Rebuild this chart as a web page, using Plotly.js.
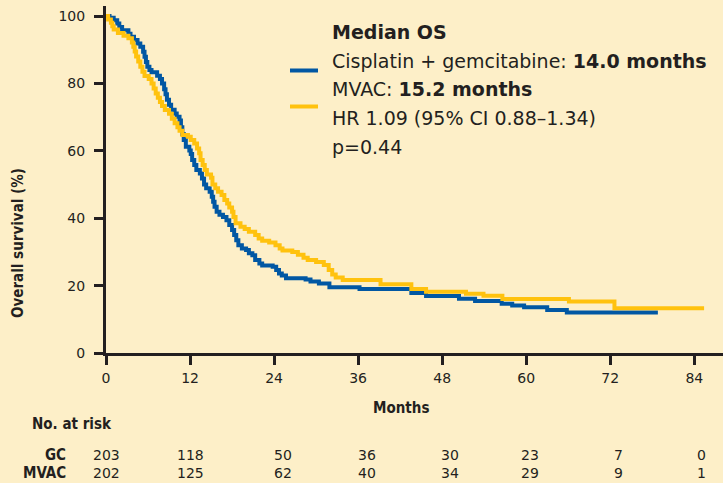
<!DOCTYPE html>
<html>
<head>
<meta charset="utf-8">
<script src="https://cdn.plot.ly/plotly-3.0.1.min.js"></script>
<style>
  html, body { margin: 0; padding: 0; background: #fdefc8; }
  #chart { width: 723px; height: 483px; }
</style>
</head>
<body>
<div id="chart"></div>
<script>
// Kaplan-Meier overall survival, cisplatin + gemcitabine (GC) vs MVAC
const gcTime = [0, 0.5, 1.1, 1.6, 1.9, 2.3, 3.2, 3.5, 4.0, 4.5, 4.9, 5.3, 5.5, 5.7, 5.9, 6.2, 6.5, 7.3, 7.7, 8.0,
  8.3, 8.5, 8.7, 9.0, 9.3, 9.8, 10.1, 10.5, 10.7, 10.9, 11.1, 11.4, 11.9, 12.1, 12.3, 12.6, 12.9, 13.4, 13.7, 14.0,
  14.3, 14.8, 15.1, 15.3, 15.5, 15.8, 16.2, 16.7, 17.2, 17.6, 18.0, 18.3, 18.6, 18.9, 19.4, 20.0, 20.4, 20.9, 21.3, 21.9,
  22.3, 23.8, 24.3, 24.7, 25.1, 25.7, 28.5, 29.2, 30.4, 31.9, 36.2, 43.6, 45.7, 50.4, 52.7, 56.5, 58.0, 59.7, 63.0, 65.8, 78.8];
const gcSurv = [100, 99.5, 98.8, 97.8, 96.8, 95.8, 94.8, 93.9, 92.9, 91.9, 90.9, 89.4, 87.9, 86.4, 85.0, 84.0, 83.3, 82.3, 81.3, 80.0,
  78.3, 76.8, 75.2, 73.7, 72.2, 71.1, 70.1, 69.0, 67.0, 65.0, 63.2, 61.2, 60.1, 59.1, 57.3, 55.8, 54.3, 53.3, 51.8, 50.0,
  48.9, 47.9, 46.4, 44.9, 43.4, 41.9, 41.0, 40.4, 39.4, 38.0, 36.5, 35.0, 33.5, 32.0, 31.0, 30.6, 29.6, 29.0, 27.6, 26.6,
  26.0, 25.6, 24.6, 23.6, 23.0, 22.2, 21.8, 21.2, 20.6, 19.5, 19.0, 17.8, 16.9, 16.1, 15.4, 14.6, 14.1, 13.6, 12.8, 12.0, 12.0];

const mvacTime = [0, 0.3, 0.7, 0.9, 1.1, 1.7, 2.5, 3.2, 3.7, 3.9, 4.1, 4.3, 4.6, 4.9, 5.2, 5.5, 6.1, 6.5, 6.8, 7.1,
  7.4, 7.7, 8.0, 8.4, 9.0, 9.4, 9.8, 10.2, 10.5, 10.9, 11.7, 12.1, 12.6, 13.0, 13.3, 13.5, 13.8, 14.1, 14.4, 15.0,
  15.2, 15.6, 16.0, 16.5, 16.9, 17.3, 17.6, 18.0, 18.2, 18.5, 19.2, 19.8, 20.4, 21.3, 21.8, 22.3, 23.3, 24.2, 24.8, 25.2,
  26.6, 27.4, 28.2, 28.8, 30.0, 31.1, 31.8, 32.3, 32.8, 33.8, 39.2, 43.6, 45.7, 51.4, 53.9, 56.6, 66.1, 72.6, 85.4];
const mvacSurv = [100, 99.0, 98.0, 97.0, 96.0, 95.0, 94.2, 93.4, 92.2, 90.9, 89.5, 88.0, 86.5, 85.0, 83.5, 82.2, 81.3, 80.0, 78.5, 77.0,
  75.8, 74.5, 73.3, 72.1, 71.0, 69.5, 68.2, 67.0, 66.0, 64.7, 64.2, 63.2, 62.2, 60.7, 59.3, 57.3, 55.8, 54.3, 53.0, 52.0,
  50.0, 48.9, 47.9, 46.9, 45.4, 44.4, 43.2, 41.9, 40.4, 38.5, 37.5, 36.8, 36.0, 35.0, 34.0, 33.3, 32.8, 32.0, 31.0, 30.4,
  30.0, 29.2, 28.3, 27.6, 27.0, 26.1, 24.6, 23.3, 22.4, 21.7, 20.4, 19.0, 18.2, 17.6, 17.0, 16.0, 15.3, 13.3, 13.3];

// Axis ticks and numbers at risk
const monthTicks = [0, 12, 24, 36, 48, 60, 72, 84];
const survTicks = [0, 20, 40, 60, 80, 100];
const riskGC = [203, 118, 50, 36, 30, 23, 7, 0];
const riskMVAC = [202, 125, 62, 40, 34, 29, 9, 1];

const legendLines = [
  {text: '<b>Median OS</b>', y: 32},
  {text: 'Cisplatin + gemcitabine: <b>14.0 months</b>', y: 61},
  {text: 'MVAC: <b>15.2 months</b>', y: 89},
  {text: 'HR 1.09 (95% CI 0.88\u20131.34)', y: 118},
  {text: 'p=0.44', y: 147}
];

const W = 723, H = 483;
const M = {l: 106, r: 0, t: 6, b: 130};
const PW = W - M.l - M.r, PH = H - M.t - M.b;
// page pixel -> paper fraction
const px = x => (x - M.l) / PW;
const py = y => (H - M.b - y) / PH;

const BLUE = '#0157a3';
const GOLD = '#ffc20e';
const INK = '#231f20';
const BG = '#fdefc8';
const BODY = 'DejaVu Sans, Verdana, sans-serif';
const COND = 'Liberation Sans Narrow, DejaVu Sans Condensed, Arial Narrow, sans-serif';

const traces = [
  {x: gcTime, y: gcSurv, type: 'scatter', mode: 'lines', name: 'GC',
   line: {color: BLUE, width: 4, shape: 'hv'}, hoverinfo: 'skip'},
  {x: mvacTime, y: mvacSurv, type: 'scatter', mode: 'lines', name: 'MVAC',
   line: {color: GOLD, width: 4, shape: 'hv'}, hoverinfo: 'skip'}
];

const axisStyle = {
  showline: true, linecolor: INK, linewidth: 3,
  ticks: 'outside', ticklen: 9, tickwidth: 3, tickcolor: INK,
  showgrid: false, zeroline: false,
  tickfont: {family: BODY, size: 14, color: INK}
};

const annotations = [];
legendLines.forEach(l => annotations.push({
  xref: 'paper', yref: 'paper', x: px(330), y: py(l.y), xanchor: 'left', yanchor: 'middle',
  text: l.text, showarrow: false, font: {family: BODY, size: 19, color: INK}
}));

annotations.push({
  xref: 'paper', yref: 'paper', x: px(18), y: py(243), textangle: -90,
  xanchor: 'center', yanchor: 'middle', showarrow: false,
  text: '<b>Overall survival (%)</b>', font: {family: COND, size: 15, color: INK}
});
annotations.push({
  xref: 'paper', yref: 'paper', x: px(401), y: py(408), xanchor: 'center', yanchor: 'middle',
  showarrow: false, text: '<b>Months</b>', font: {family: COND, size: 15, color: INK}
});
annotations.push({
  xref: 'paper', yref: 'paper', x: px(30), y: py(424), xanchor: 'left', yanchor: 'middle',
  showarrow: false, text: '<b>No. at risk</b>', font: {family: COND, size: 15, color: INK}
});

const rows = [{label: 'GC', vals: riskGC, y: 455}, {label: 'MVAC', vals: riskMVAC, y: 473}];
const colShift = [0, 0, 9, 9, 8, 4, 8, 7];
rows.forEach(r => {
  annotations.push({
    xref: 'paper', yref: 'paper', x: px(67), y: py(r.y), xanchor: 'right', yanchor: 'middle',
    showarrow: false, borderpad: 0, text: '<b>' + r.label + '</b>', font: {family: COND, size: 15, color: INK}
  });
  r.vals.forEach((v, i) => annotations.push({
    xref: 'x', yref: 'paper', x: monthTicks[i], y: py(r.y), xshift: colShift[i],
    xanchor: 'center', yanchor: 'middle', showarrow: false, borderpad: 0,
    text: String(v), font: {family: BODY, size: 14, color: INK}
  }));
});

// legend keys beside the median lines
const shapes = [
  {type: 'line', xref: 'paper', yref: 'paper', x0: px(290), x1: px(318), y0: py(70.5), y1: py(70.5),
   line: {color: BLUE, width: 4}},
  {type: 'line', xref: 'paper', yref: 'paper', x0: px(290), x1: px(318), y0: py(106.5), y1: py(106.5),
   line: {color: GOLD, width: 4}}
];

const layout = {
  width: W, height: H, margin: M,
  paper_bgcolor: BG, plot_bgcolor: BG,
  showlegend: false,
  xaxis: Object.assign({}, axisStyle, {range: [0, 88.1], tickvals: monthTicks, ticklabelstandoff: 1}),
  yaxis: Object.assign({}, axisStyle, {range: [0, 103], tickvals: survTicks, ticklabelstandoff: 6}),
  annotations: annotations,
  shapes: shapes
};

Plotly.newPlot('chart', traces, layout, {staticPlot: true, displayModeBar: false});
</script>
</body>
</html>
